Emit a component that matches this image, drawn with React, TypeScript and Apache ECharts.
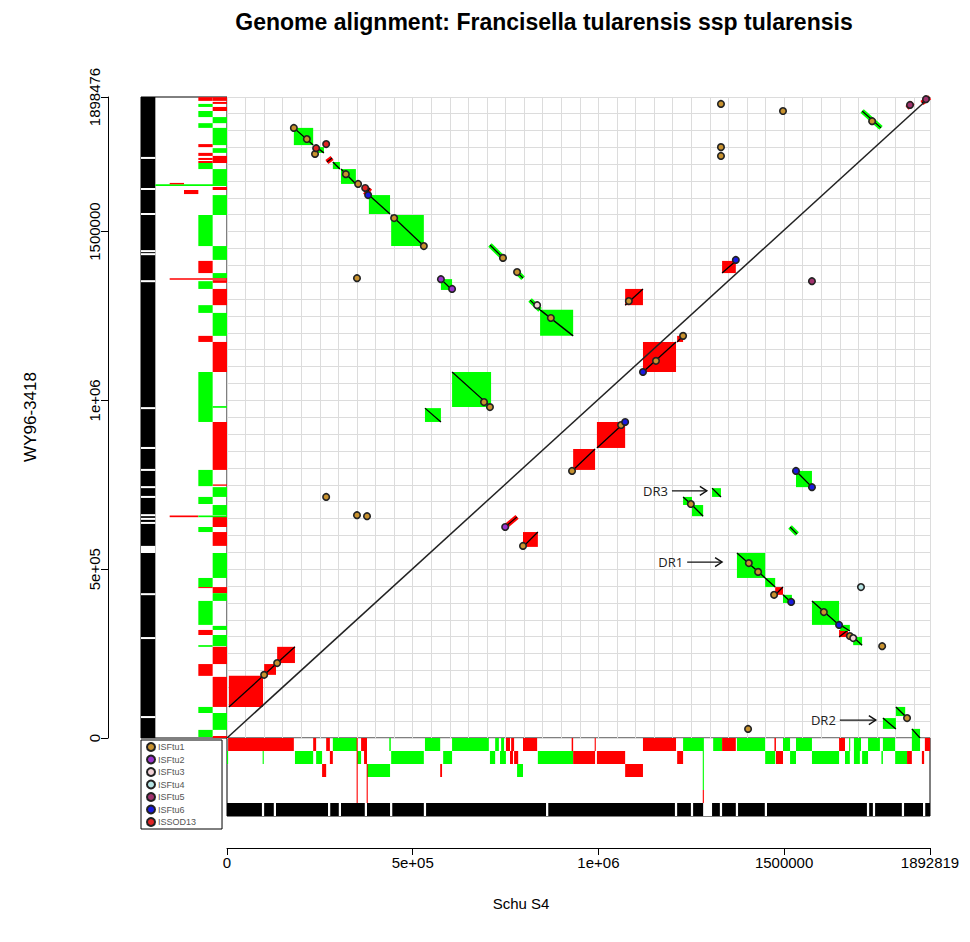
import React, { useEffect, useRef } from 'react';
import * as echarts from 'echarts';

// ---------- axis extents and ticks ----------
const X_MAX = 1892819;
const Y_MAX = 1898476;
const KB = 1000; // the lists below are in kilobases
const xTickValues = [0, 500000, 1000000, 1500000, 1892819];
const xTickLabels = ['0', '5e+05', '1e+06', '1500000', '1892819'];
const yTickValues = [0, 500000, 1000000, 1500000, 1898476];
const yTickLabels = ['0', '5e+05', '1e+06', '1500000', '1898476'];

// ---------- alignment blocks (kb): [xStart, xEnd, yStart, yEnd] ----------
const forwardBlocks = [
  [5, 97, 92, 184], [100, 132, 187, 219], [135, 183, 222, 270],
  [797, 837, 566, 610], [932, 991, 794, 856], [996, 1072, 859, 936],
  [1072, 1120, 1282, 1330], [1120, 1209, 1084, 1173], [1212, 1228, 1173, 1191],
  [1333, 1370, 1377, 1413], [1476, 1497, 424, 447], [1648, 1672, 299, 320],
];
const forwardThin = [
  [269, 283, 1706, 1718], [372, 385, 1608, 1629], [749, 781, 625, 655],
  [1831, 1847, 1866, 1881], [1871, 1892, 1881, 1898],
];
const invertedBlocks = [
  [180, 232, 1807, 1756], [240, 261, 1750, 1733], [285, 304, 1706, 1685],
  [307, 347, 1685, 1641], [382, 439, 1608, 1552], [442, 530, 1549, 1457],
  [576, 606, 1359, 1327], [843, 932, 1268, 1191], [606, 711, 1084, 980],
  [533, 576, 977, 936], [1306, 1330, 740, 714], [1228, 1252, 714, 690],
  [1252, 1282, 690, 657], [1532, 1575, 791, 743], [1373, 1449, 548, 474],
  [1449, 1476, 474, 447], [1497, 1521, 424, 400], [1575, 1648, 406, 335],
  [1651, 1677, 335, 317], [1686, 1710, 299, 275], [1766, 1801, 59, 27],
  [1801, 1826, 92, 65], [1844, 1866, 27, 0],
];
const invertedThin = [
  [708, 749, 1460, 1416], [781, 797, 1380, 1362], [816, 843, 1297, 1268],
  [1710, 1761, 1857, 1807], [1516, 1535, 625, 604],
];

// ---------- IS element positions (kb): [x, y] ----------
const isNames = ['ISFtu1', 'ISFtu2', 'ISFtu3', 'ISFtu4', 'ISFtu5', 'ISFtu6', 'ISSOD13'];
const isColors = ['#C8922F', '#9A33CC', '#F2D2D6', '#B5E3E3', '#A2326E', '#1A1AE0', '#E02424'];
const isFtu1 = [
  [180, 1807], [215, 1774], [237, 1730], [320, 1670], [353, 1641], [450, 1540], [530, 1457],
  [743, 1422], [781, 1380], [872, 1244], [692, 995], [708, 980], [929, 791], [1061, 927],
  [1082, 1294], [1155, 1117], [1228, 1191], [797, 569], [1249, 693], [1405, 518], [1430, 492],
  [1473, 424], [1607, 373], [1677, 302], [1764, 272], [1831, 59], [1403, 27], [1330, 1878],
  [1330, 1750], [1330, 1724], [1497, 1857], [1737, 1827], [267, 714], [350, 660], [377, 657],
  [350, 1362], [100, 187], [135, 222],
];
const isFtu2 = [[576, 1359], [606, 1330], [749, 625]];
const isFtu3 = [[835, 1282], [1686, 296]];
const isFtu4 = [[1707, 447]];
const isFtu5 = [[1575, 1353], [1839, 1875], [1882, 1892]];
const isFtu6 = [[380, 1608], [1370, 1416], [1120, 1084], [1072, 936], [1532, 791], [1575, 743], [1519, 403], [1648, 335]];
const isSod13 = [[267, 1759], [240, 1747], [372, 1629]];
const isPoints = [isFtu1, isFtu2, isFtu3, isFtu4, isFtu5, isFtu6, isSod13];

// ---------- duplicated regions annotations (kb) ----------
const drLabels = ['DR3', 'DR1', 'DR2'];
const drTail = [1198, 1239, 1650];
const drTip = [1292, 1333, 1747];
const drY = [732, 521, 53];

// ---------- left (WY96-3418) strips (kb): [yLow, yHigh, colour] ----------
const leftLevel0 = [
  [1887, 1898, 'r'], [1878, 1884, 'r'], [1857, 1869, 'r'], [1821, 1839, 'g'], [1756, 1807, 'g'],
  [1733, 1747, 'g'], [1703, 1724, 'r'], [1638, 1685, 'g'], [1623, 1632, 'r'], [1549, 1608, 'g'],
  [1416, 1457, 'g'], [1362, 1377, 'g'], [1348, 1356, 'r'], [1282, 1330, 'r'], [1191, 1259, 'g'],
  [1084, 1173, 'r'], [978, 983, 'g'], [794, 936, 'r'], [747, 751, 'r'], [714, 743, 'g'],
  [660, 690, 'g'], [625, 655, 'r'], [569, 610, 'r'], [474, 548, 'g'], [429, 447, 'r'],
  [406, 429, 'g'], [320, 332, 'g'], [272, 305, 'g'], [219, 270, 'r'], [92, 181, 'r'],
  [24, 74, 'g'], [0, 6, 'r'],
];
const leftLevel1 = [
  [1887, 1898, 'r'], [1869, 1878, 'g'], [1839, 1857, 'g'], [1807, 1821, 'g'], [1750, 1759, 'r'],
  [1724, 1733, 'r'], [1712, 1718, 'r'], [1703, 1709, 'r'], [1685, 1703, 'g'], [1457, 1549, 'g'],
  [1377, 1413, 'r'], [1330, 1353, 'g'], [1259, 1282, 'g'], [1173, 1191, 'r'], [936, 1084, 'g'],
  [746, 794, 'g'], [693, 714, 'g'], [610, 625, 'g'], [447, 474, 'g'], [444, 447, 'r'],
  [335, 406, 'g'], [305, 320, 'r'], [270, 275, 'g'], [184, 219, 'r'], [74, 92, 'g'], [3, 24, 'g'],
];
// [yLow, yHigh, levelFrom, levelTo, colour]
const leftExtra = [
  [1635, 1640, 0, 4, 'g'], [1640, 1644, 3, 3, 'r'], [1611, 1623, 2, 2, 'r'],
  [1357, 1362, 0, 3, 'r'], [654, 659, 2, 3, 'r'], [654, 659, 0, 1, 'g'],
];
const leftGaps = [
  [1715, 1721], [1623, 1629], [1549, 1555], [1439, 1445], [1430, 1436], [1350, 1356],
  [974, 980], [856, 862], [791, 797], [740, 746], [711, 717], [657, 663], [646, 652],
  [634, 640], [548, 569], [423, 429], [293, 299], [59, 65],
];

// ---------- bottom (Schu S4) strips (kb): [xStart, xEnd, colour] ----------
const bottomLevel0 = [
  [3, 180, 'r'], [232, 240, 'r'], [267, 277, 'r'], [285, 350, 'g'], [361, 377, 'r'],
  [437, 441, 'g'], [533, 574, 'g'], [606, 705, 'g'], [722, 732, 'g'], [738, 746, 'g'],
  [751, 762, 'r'], [765, 773, 'r'], [797, 835, 'r'], [928, 932, 'r'], [990, 993, 'r'],
  [1120, 1209, 'r'], [1228, 1282, 'g'], [1309, 1333, 'g'], [1333, 1370, 'r'], [1373, 1449, 'g'],
  [1474, 1478, 'r'], [1497, 1516, 'g'], [1532, 1575, 'g'], [1648, 1664, 'r'], [1675, 1678, 'g'],
  [1688, 1707, 'g'], [1726, 1758, 'g'], [1766, 1799, 'g'], [1844, 1866, 'g'], [1879, 1893, 'r'],
];
const bottomLevel1 = [
  [0, 3, 'g'], [96, 99, 'g'], [183, 232, 'g'], [240, 256, 'g'], [277, 285, 'r'], [350, 361, 'g'],
  [369, 377, 'r'], [442, 530, 'g'], [582, 606, 'g'], [708, 722, 'g'], [735, 751, 'g'],
  [762, 770, 'r'], [773, 784, 'r'], [837, 932, 'g'], [932, 991, 'r'], [996, 1072, 'r'],
  [1212, 1228, 'r'], [1449, 1476, 'g'], [1478, 1497, 'r'], [1516, 1532, 'g'], [1575, 1648, 'g'],
  [1664, 1677, 'g'], [1688, 1704, 'g'], [1710, 1726, 'g'], [1762, 1766, 'g'], [1799, 1831, 'g'],
  [1831, 1844, 'r'], [1871, 1877, 'r'],
];
const bottomLevel2 = [
  [256, 267, 'r'], [377, 439, 'g'], [574, 579, 'r'], [781, 797, 'g'], [1072, 1120, 'r'],
];
// [xStart, xEnd, levelFrom, levelTo, colour]
const bottomExtra = [
  [349, 352, 0, 4, 'r'], [376, 379, 2, 4, 'r'], [1281, 1284, 0, 3, 'g'], [1281, 1284, 4, 4, 'r'],
];
const bottomGaps = [
  [94, 100], [126, 132], [272, 278], [301, 307], [371, 377], [439, 445], [530, 536],
  [859, 865], [1206, 1212], [1249, 1255], [1282, 1306], [1327, 1333], [1370, 1376],
  [1448, 1454], [1723, 1729], [1739, 1745], [1817, 1823], [1874, 1880],
];

const RED = '#FF0000';
const GREEN = '#00FF00';
const FILLS = [RED, GREEN, '#000000', '#FFFFFF'];
const cIdx = (c: string) => (c === 'r' ? 0 : 1);
const BAR_LEVEL = 5;
const FONT = '"Liberation Sans", Arial, sans-serif';

function buildOption() {
  const blockData: number[][] = [];
  forwardBlocks.forEach((b) => blockData.push([b[0] * KB, b[1] * KB, b[2] * KB, b[3] * KB, 0, 0]));
  invertedBlocks.forEach((b) => blockData.push([b[0] * KB, b[1] * KB, b[2] * KB, b[3] * KB, 0, 1]));
  forwardThin.forEach((b) => blockData.push([b[0] * KB, b[1] * KB, b[2] * KB, b[3] * KB, 1, 0]));
  invertedThin.forEach((b) => blockData.push([b[0] * KB, b[1] * KB, b[2] * KB, b[3] * KB, 1, 1]));

  const leftData: number[][] = [[0, Y_MAX, BAR_LEVEL, BAR_LEVEL, 2]];
  leftGaps.forEach((g) => leftData.push([g[0] * KB, g[1] * KB, BAR_LEVEL, BAR_LEVEL, 3]));
  leftLevel0.forEach((s: any) => leftData.push([s[0] * KB, s[1] * KB, 0, 0, cIdx(s[2])]));
  leftLevel1.forEach((s: any) => leftData.push([s[0] * KB, s[1] * KB, 1, 1, cIdx(s[2])]));
  leftExtra.forEach((s: any) => leftData.push([s[0] * KB, s[1] * KB, s[2], s[3], cIdx(s[4])]));

  const bottomData: number[][] = [[0, X_MAX, BAR_LEVEL, BAR_LEVEL, 2]];
  bottomGaps.forEach((g) => bottomData.push([g[0] * KB, g[1] * KB, BAR_LEVEL, BAR_LEVEL, 3]));
  bottomLevel0.forEach((s: any) => bottomData.push([s[0] * KB, s[1] * KB, 0, 0, cIdx(s[2])]));
  bottomLevel1.forEach((s: any) => bottomData.push([s[0] * KB, s[1] * KB, 1, 1, cIdx(s[2])]));
  bottomLevel2.forEach((s: any) => bottomData.push([s[0] * KB, s[1] * KB, 2, 2, cIdx(s[2])]));
  bottomExtra.forEach((s: any) => bottomData.push([s[0] * KB, s[1] * KB, s[2], s[3], cIdx(s[4])]));

  const drData = drLabels.map((_, i) => [drTail[i] * KB, drTip[i] * KB, drY[i] * KB, i]);

  const labelFmt = (vals: number[], labels: string[]) => (v: number) => {
    const i = vals.indexOf(v);
    return i >= 0 ? labels[i] : '';
  };

  const scatterSeries = isNames.map((name, i) => ({
    name,
    type: 'scatter',
    xAxisIndex: 0,
    yAxisIndex: 0,
    z: 5,
    symbol: 'circle',
    symbolSize: 6.5,
    itemStyle: { color: isColors[i], borderColor: '#222', borderWidth: 1.6, opacity: 1 },
    data: isPoints[i].map((p) => [p[0] * KB, p[1] * KB]),
  }));

  return {
    animation: false,
    backgroundColor: '#ffffff',
    graphic: [
      {
        type: 'text', x: 544, y: 22,
        style: {
          text: 'Genome alignment: Francisella tularensis ssp tularensis',
          textAlign: 'center', textVerticalAlign: 'middle',
          font: 'bold 23px ' + FONT, fill: '#000',
        },
      },
      {
        type: 'text', x: 521, y: 903,
        style: { text: 'Schu S4', textAlign: 'center', textVerticalAlign: 'middle', font: '15px ' + FONT, fill: '#000' },
      },
      {
        type: 'text', x: 30, y: 417, rotation: Math.PI / 2,
        style: { text: 'WY96-3418', textAlign: 'center', textVerticalAlign: 'middle', font: '17px ' + FONT, fill: '#000' },
      },
    ],
    legend: {
      orient: 'vertical',
      left: 141,
      top: 740,
      icon: 'circle',
      itemWidth: 8,
      itemHeight: 8,
      itemGap: 2.5,
      padding: [2, 26, 2, 5],
      borderColor: '#000',
      borderWidth: 1,
      selectedMode: false,
      textStyle: { fontSize: 9, color: '#555', fontFamily: FONT, lineHeight: 8, padding: [0, 0, 0, -2] },
      data: isNames,
    },
    grid: [
      { left: 227, top: 97, width: 703, height: 641, show: false },
      { left: 141, top: 97, width: 86, height: 641, show: true, borderColor: '#000', borderWidth: 1, backgroundColor: 'transparent' },
      { left: 227, top: 738, width: 703, height: 78, show: true, borderColor: '#000', borderWidth: 1, backgroundColor: 'transparent' },
    ],
    xAxis: [
      {
        type: 'value', gridIndex: 0, min: 0, max: X_MAX, interval: 50000,
        axisLine: { show: false }, axisTick: { show: false }, axisLabel: { show: false },
        splitLine: { show: true, lineStyle: { color: '#dcdcdc', width: 1 } },
      },
      {
        type: 'value', gridIndex: 0, min: 0, max: X_MAX, position: 'bottom', offset: 110,
        axisLine: { show: true, onZero: false, lineStyle: { color: '#000', width: 1 } },
        axisTick: { show: true, length: 7, inside: false, customValues: xTickValues, lineStyle: { color: '#000' } },
        axisLabel: {
          show: true, customValues: xTickValues, margin: 7,
          formatter: labelFmt(xTickValues, xTickLabels),
          fontSize: 15, color: '#000', fontFamily: FONT,
        },
        splitLine: { show: false },
      },
      { type: 'value', gridIndex: 1, min: 0, max: 6, inverse: true, show: false },
      { type: 'value', gridIndex: 2, min: 0, max: X_MAX, show: false },
    ],
    yAxis: [
      {
        type: 'value', gridIndex: 0, min: 0, max: Y_MAX, interval: 50000,
        axisLine: { show: false }, axisTick: { show: false }, axisLabel: { show: false },
        splitLine: { show: true, lineStyle: { color: '#dcdcdc', width: 1 } },
      },
      {
        type: 'value', gridIndex: 0, min: 0, max: Y_MAX, position: 'left', offset: 119,
        axisLine: { show: true, onZero: false, lineStyle: { color: '#000', width: 1 } },
        axisTick: { show: true, length: 7, inside: false, customValues: yTickValues, lineStyle: { color: '#000' } },
        axisLabel: {
          show: true, customValues: yTickValues, margin: 6, rotate: 90,
          formatter: labelFmt(yTickValues, yTickLabels),
          fontSize: 15, color: '#000', fontFamily: FONT,
        },
        splitLine: { show: false },
      },
      { type: 'value', gridIndex: 1, min: 0, max: Y_MAX, show: false },
      { type: 'value', gridIndex: 2, min: 0, max: 6, inverse: true, show: false },
    ],
    series: [
      {
        type: 'custom',
        name: 'blocks',
        xAxisIndex: 0,
        yAxisIndex: 0,
        z: 2,
        silent: true,
        encode: { x: [0, 1], y: [2, 3] },
        data: blockData,
        renderItem: (params: any, api: any) => {
          const a = api.coord([api.value(0), api.value(2)]);
          const b = api.coord([api.value(1), api.value(3)]);
          const kind = api.value(4);
          const color = FILLS[api.value(5)];
          const seg = { x1: a[0], y1: a[1], x2: b[0], y2: b[1] };
          if (kind === 0) {
            return {
              type: 'group',
              children: [
                {
                  type: 'rect',
                  shape: {
                    x: Math.min(a[0], b[0]), y: Math.min(a[1], b[1]),
                    width: Math.abs(b[0] - a[0]), height: Math.abs(b[1] - a[1]),
                  },
                  style: { fill: color },
                },
                { type: 'line', shape: seg, style: { stroke: '#000', lineWidth: 1.3 } },
              ],
            };
          }
          return {
            type: 'group',
            children: [
              { type: 'line', shape: seg, style: { stroke: color, lineWidth: 5, lineCap: 'butt' } },
              { type: 'line', shape: seg, style: { stroke: '#000', lineWidth: 1.2 } },
            ],
          };
        },
      },
      {
        type: 'line',
        name: 'diagonal',
        xAxisIndex: 0,
        yAxisIndex: 0,
        z: 3,
        silent: true,
        showSymbol: false,
        symbol: 'none',
        lineStyle: { color: '#222', width: 1.5 },
        data: [[0, 0], [X_MAX, Y_MAX]],
      },
      ...scatterSeries,
      {
        type: 'custom',
        name: 'dr',
        xAxisIndex: 0,
        yAxisIndex: 0,
        z: 6,
        silent: true,
        encode: { x: [0, 1], y: 2 },
        data: drData,
        renderItem: (params: any, api: any) => {
          const a = api.coord([api.value(0), api.value(2)]);
          const b = api.coord([api.value(1), api.value(2)]);
          const label = drLabels[api.value(3)];
          return {
            type: 'group',
            children: [
              { type: 'line', shape: { x1: a[0], y1: a[1], x2: b[0], y2: b[1] }, style: { stroke: '#111', lineWidth: 1.4 } },
              {
                type: 'polyline',
                shape: { points: [[b[0] - 7, b[1] - 4.5], [b[0], b[1]], [b[0] - 7, b[1] + 4.5]] },
                style: { stroke: '#111', lineWidth: 1.4, fill: 'none' },
              },
              {
                type: 'text', x: a[0] - 4, y: a[1],
                style: { text: label, textAlign: 'right', textVerticalAlign: 'middle', font: '13px "Open Sans", ' + FONT, fill: '#222' },
              },
            ],
          };
        },
      },
      {
        type: 'custom',
        name: 'leftStrips',
        xAxisIndex: 2,
        yAxisIndex: 2,
        z: 2,
        silent: true,
        encode: { x: 2, y: [0, 1] },
        data: leftData,
        renderItem: (params: any, api: any) => {
          const p1 = api.coord([api.value(2), api.value(1)]);
          const p2 = api.coord([api.value(3) + 1, api.value(0)]);
          const h = Math.max(1, Math.abs(p2[1] - p1[1]));
          return {
            type: 'rect',
            shape: { x: Math.min(p1[0], p2[0]), y: Math.min(p1[1], p2[1]), width: Math.abs(p2[0] - p1[0]), height: h },
            style: { fill: FILLS[api.value(4)] },
          };
        },
      },
      {
        type: 'custom',
        name: 'bottomStrips',
        xAxisIndex: 3,
        yAxisIndex: 3,
        z: 2,
        silent: true,
        encode: { x: [0, 1], y: 2 },
        data: bottomData,
        renderItem: (params: any, api: any) => {
          const p1 = api.coord([api.value(0), api.value(2)]);
          const p2 = api.coord([api.value(1), api.value(3) + 1]);
          const w = Math.max(1, Math.abs(p2[0] - p1[0]));
          return {
            type: 'rect',
            shape: { x: Math.min(p1[0], p2[0]), y: Math.min(p1[1], p2[1]), width: w, height: Math.abs(p2[1] - p1[1]) },
            style: { fill: FILLS[api.value(4)] },
          };
        },
      },
    ],
  };
}

export default function App() {
  const ref = useRef<HTMLDivElement>(null);
  useEffect(() => {
    if (!ref.current) return;
    const chart = echarts.init(ref.current, undefined, { renderer: 'svg' });
    chart.setOption(buildOption() as any);
    return () => chart.dispose();
  }, []);
  return (
    <div
      ref={ref}
      style={{ position: 'fixed', left: 0, top: 0, width: 970, height: 942, background: '#fff' }}
    />
  );
}
